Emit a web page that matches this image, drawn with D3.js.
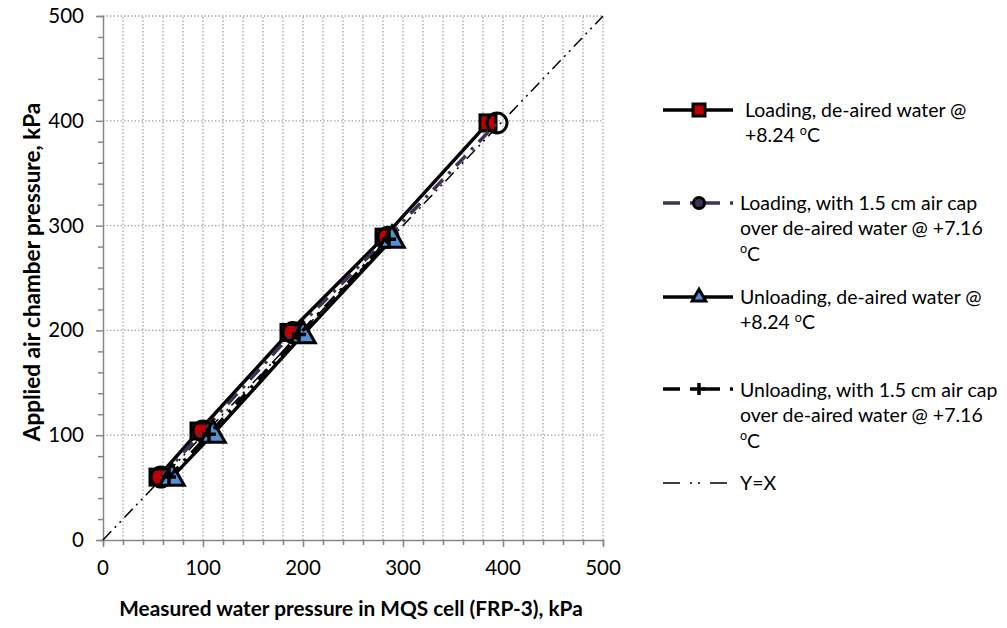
<!DOCTYPE html>
<html>
<head>
<meta charset="utf-8">
<script src="https://cdn.jsdelivr.net/npm/d3@7/dist/d3.min.js"></script>
<style>
  html, body { margin: 0; padding: 0; background: #fff; }
  svg text { font-family: Lato, "Open Sans", sans-serif; fill: #000; }
</style>
</head>
<body>
<svg id="chart" width="1007" height="628"></svg>
<script>
// Applied air chamber pressure (kPa) at each step
const loadSteps = [60, 104, 198, 289, 398];
const unloadSteps = [60, 101, 196, 287];

// Measured water pressure in the MQS cell (kPa)
const loadDeaired = [55, 96, 186, 281, 385];
const loadAirCap = [58, 100, 190, 285, 394];
const unloadDeaired = [69, 110, 200, 289];
const unloadAirCap = [66, 106, 196, 286];

const xTicks = [0, 100, 200, 300, 400, 500];
const yTicks = [0, 100, 200, 300, 400, 500];

// legend labels; "|o" marks a superscript o
const seriesNames = [
  ["Loading, de-aired water @", "+8.24 |oC"],
  ["Loading, with 1.5 cm air cap", "over de-aired water @ +7.16", "|oC"],
  ["Unloading, de-aired water @", "+8.24 |oC"],
  ["Unloading, with 1.5 cm air cap", "over de-aired water @ +7.16", "|oC"],
  ["Y=X"]
];

const svg = d3.select("#chart");
const x = d3.scaleLinear().domain([0, 500]).range([103, 603]);
const y = d3.scaleLinear().domain([0, 500]).range([540, 16]);

// dotted grid: vertical every 20, horizontal every 100
const grid = svg.append("g");
grid.selectAll("line.v").data(d3.range(20, 501, 20)).join("line")
  .attr("x1", d => x(d)).attr("x2", d => x(d))
  .attr("y1", y(0)).attr("y2", y(500))
  .attr("stroke", "#a6a6a6").attr("stroke-width", 1.3)
  .attr("stroke-dasharray", "1.5,2");
grid.selectAll("line.h").data(d3.range(100, 501, 100)).join("line")
  .attr("x1", x(0)).attr("x2", x(500))
  .attr("y1", d => y(d)).attr("y2", d => y(d))
  .attr("stroke", "#a6a6a6").attr("stroke-width", 1.3)
  .attr("stroke-dasharray", "1.5,2");

// axes
const axisColor = "#868686";
const gx = svg.append("g").attr("transform", `translate(0,${y(0)})`);
gx.call(d3.axisBottom(x).tickValues(d3.range(0, 501, 20)).tickSize(5).tickFormat(""));
gx.call(g => g.selectAll(".tick line").filter(d => d % 100 === 0).attr("y2", 7));
gx.selectAll("path").attr("stroke", axisColor).attr("stroke-width", 1.5);
gx.selectAll(".tick line").attr("stroke", axisColor).attr("stroke-width", 1.5);
svg.append("g").selectAll("text").data(xTicks).join("text")
  .attr("x", d => x(d)).attr("y", 575).attr("text-anchor", "middle")
  .attr("font-size", 20.5).text(d => d);

const gy = svg.append("g").attr("transform", `translate(${x(0)},0)`);
gy.call(d3.axisLeft(y).tickValues(d3.range(0, 501, 20)).tickSize(5).tickFormat(""));
gy.call(g => g.selectAll(".tick line").filter(d => d % 100 === 0).attr("x2", -7));
gy.selectAll("path").attr("stroke", axisColor).attr("stroke-width", 1.5);
gy.selectAll(".tick line").attr("stroke", axisColor).attr("stroke-width", 1.5);
svg.append("g").selectAll("text").data(yTicks).join("text")
  .attr("x", 84).attr("y", d => y(d) + 7).attr("text-anchor", "end")
  .attr("font-size", 20.5).text(d => d);

// axis titles
svg.append("text").attr("x", 351).attr("y", 616).attr("text-anchor", "middle")
  .attr("font-size", 20.8).attr("font-weight", "bold")
  .text("Measured water pressure in MQS cell (FRP-3), kPa");
svg.append("text").attr("transform", "translate(40,272) rotate(-90)")
  .attr("text-anchor", "middle").attr("font-size", 22.5).attr("font-weight", "bold")
  .text("Applied air chamber pressure, kPa");

// series styles
const styles = [
  { color: "#000", width: 3.5, dash: null, marker: "square" },
  { color: "#403152", width: 3.5, dash: "14,8,3,8", marker: "circle" },
  { color: "#000", width: 3.5, dash: null, marker: "triangle" },
  { color: "#000", width: 3.5, dash: "14,8,3,8", marker: "plus" }
];
const seriesData = [
  d3.zip(loadDeaired, loadSteps),
  d3.zip(loadAirCap, loadSteps),
  d3.zip(unloadDeaired, unloadSteps),
  d3.zip(unloadAirCap, unloadSteps)
];

const line = d3.line().x(d => x(d[0])).y(d => y(d[1]));

// reference line Y=X
svg.append("line").attr("x1", x(0)).attr("y1", y(0)).attr("x2", x(500)).attr("y2", y(500))
  .attr("stroke", "#000").attr("stroke-width", 1.5)
  .attr("stroke-dasharray", "12,5,2,5,2,5");

function drawMarker(g, type, cx, cy, big) {
  if (type === "square") {
    const h = big ? 8 : 6;
    g.append("rect").attr("x", cx - h).attr("y", cy - h).attr("width", 2 * h).attr("height", 2 * h)
      .attr("fill", "#c00000").attr("stroke", "#000").attr("stroke-width", 3);
  } else if (type === "circle") {
    g.append("circle").attr("cx", cx).attr("cy", cy).attr("r", big ? 10 : 5.5)
      .attr("fill", big ? "none" : "#403152").attr("stroke", "#000").attr("stroke-width", 3);
  } else if (type === "triangle") {
    const s = d3.symbol().type(d3.symbolTriangle).size(big ? 260 : 80);
    g.append("path").attr("d", s()).attr("transform", `translate(${cx},${cy + (big ? 1 : 0)})`)
      .attr("fill", "#558ed5").attr("stroke", "#000").attr("stroke-width", 3);
  } else if (type === "plus") {
    const h = big ? 7 : 6;
    g.append("path").attr("d", `M${cx - h},${cy}H${cx + h}M${cx},${cy - h}V${cy + h}`)
      .attr("stroke", "#000").attr("stroke-width", 3.5);
  }
}

seriesData.forEach((data, i) => {
  const st = styles[i];
  const g = svg.append("g");
  g.append("path").datum(data).attr("d", line).attr("fill", "none")
    .attr("stroke", st.color).attr("stroke-width", st.width)
    .attr("stroke-dasharray", st.dash);
  data.forEach(d => drawMarker(g, st.marker, x(d[0]), y(d[1]), true));
});

// legend
const legendRows = [110, 203, 297, 389, 483];
const textTops = [117, 210, 304, 397, 490];
const legend = svg.append("g");
function addLabel(lines, top, tx) {
  lines.forEach((ln, k) => {
    const t = legend.append("text").attr("font-size", 19.5)
      .attr("x", tx).attr("y", top + k * 25.3);
    const parts = ln.split("|");
    t.append("tspan").text(parts[0]);
    if (parts.length > 1) {
      t.append("tspan").attr("font-size", 12.5).attr("dy", -7.5).text(parts[1][0]);
      t.append("tspan").attr("dy", 7.5).text(parts[1].slice(1));
    }
  });
}
styles.forEach((st, i) => {
  const ly = legendRows[i];
  legend.append("line").attr("x1", 663).attr("x2", 733).attr("y1", ly).attr("y2", ly)
    .attr("stroke", st.color).attr("stroke-width", st.width)
    .attr("stroke-dasharray", st.dash ? "17,10,3,10" : null);
  drawMarker(legend, st.marker, 699, ly, false);
  addLabel(seriesNames[i], textTops[i], i === 0 ? 745 : 740);
});
legend.append("line").attr("x1", 663).attr("x2", 733).attr("y1", legendRows[4]).attr("y2", legendRows[4])
  .attr("stroke", "#000").attr("stroke-width", 1.5).attr("stroke-dasharray", "17,10,2,6,2,10");
addLabel(seriesNames[4], textTops[4], 740);
</script>
</body>
</html>
